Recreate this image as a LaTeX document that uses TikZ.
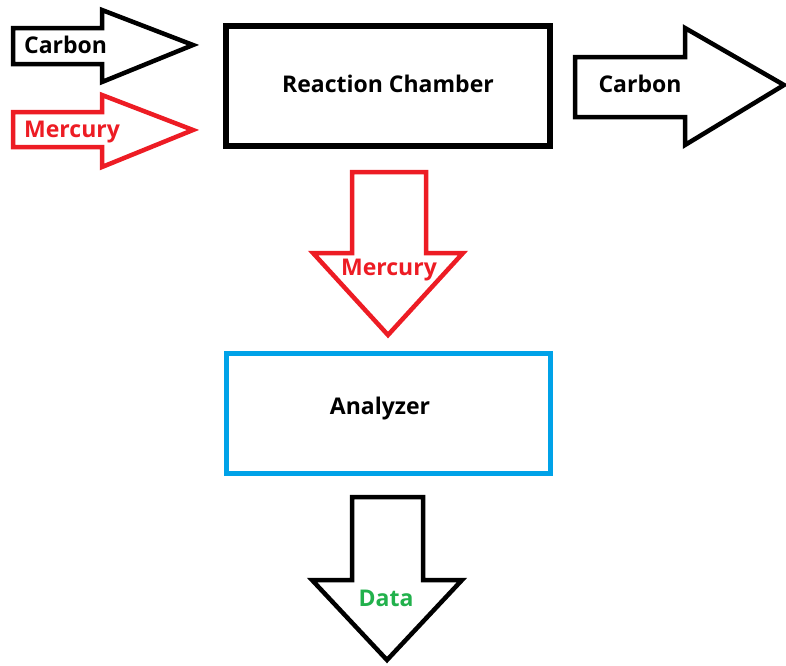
\documentclass[tikz,border=0pt]{standalone}
\usepackage{fontspec}
\setmainfont{Open Sans}
\usepackage{tikz}

\definecolor{pred}{RGB}{237,28,36}
\definecolor{pblue}{RGB}{0,162,232}
\definecolor{pgreen}{RGB}{34,177,76}

\begin{document}
\begin{tikzpicture}[
			x=1pt, y=-1pt,
			box/.style={draw, rectangle, line width=5.5pt, minimum width=324pt, minimum height=120pt, inner sep=0pt},
			blockarrow/.style={draw, line width=4.5pt, line join=miter, fill=white},
			lbl/.style={font=\fontsize{23}{25}\selectfont\bfseries, inner sep=0pt}
			]
			\useasboundingbox (0,0) rectangle (786,665);
			
			%==================== Reaction Chamber ====================
			\node[box] (chamber) at (388,86) {};
			\node[lbl] (chambertxt) at (388,84) {Reaction Chamber};
			
			% inputs
			\draw[blockarrow] (13,28) -- (102,28) -- (102,10) -- (193,45) -- (102,82) -- (102,64) -- (13,64) -- cycle;
			\node[lbl, anchor=west] (carbonin) at (24,45) {Carbon};
			
			\draw[blockarrow, draw=pred] (13,112) -- (102,112) -- (102,95) -- (193,130) -- (102,167) -- (102,147) -- (13,147) -- cycle;
			\node[lbl, anchor=west, text=pred] (mercuryin) at (24,132) {Mercury};
			
			% output
			\draw[blockarrow] (575,57) -- (685,57) -- (685,28) -- (784,85) -- (685,145) -- (685,117) -- (575,117) -- cycle;
			\node[lbl] (carbonout) at (640,84) {Carbon};
			
			%==================== Analyzer ====================
			\draw[blockarrow, draw=pred] (352,172) -- (426,172) -- (426,253) -- (463,253) -- (388,335) -- (313,253) -- (352,253) -- cycle;
			\node[lbl, text=pred] (mercurydown) at (389,270) {Mercury};
			
			\node[box, draw=pblue, line width=5pt] (analyzer) at (388.5,413.5) {};
			\node[lbl] (analyzertxt) at (380,409) {Analyzer};
			
			\draw[blockarrow] (352,497) -- (423,497) -- (423,580) -- (462,580) -- (387,660) -- (312,580) -- (352,580) -- cycle;
			\node[lbl, text=pgreen] (data) at (386,598) {Data};
			
		\end{tikzpicture}
\end{document}
